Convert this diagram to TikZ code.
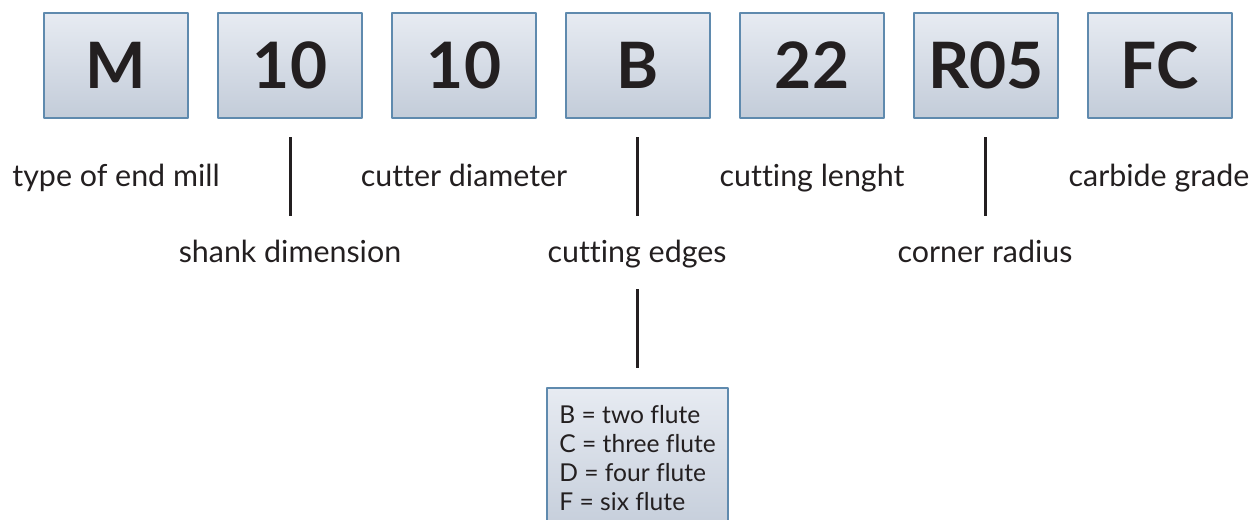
\documentclass[tikz,border=0pt]{standalone}
\usepackage{fontspec}
\setmainfont[Ligatures=NoCommon]{Lato}
\usepackage{tikz}
\usetikzlibrary{arrows}
\definecolor{boxline}{HTML}{5F8AAE}
\definecolor{boxtop}{HTML}{E7EBF2}
\definecolor{boxbot}{HTML}{C3CCD9}
\definecolor{ink}{HTML}{231F20}
\tikzset{
  codebox/.style={draw=boxline,line width=1pt,top color=boxtop,bottom color=boxbot,
    minimum width=72pt,minimum height=52.5pt,inner sep=0pt,
    font=\fontsize{32}{36}\selectfont\bfseries,text=ink},
  desc/.style={font=\fontsize{15.2}{17}\selectfont,text=ink,inner sep=0pt,anchor=base},
  sep/.style={draw=ink,line width=1.5pt}
}
\begin{document}
\begin{tikzpicture}[line cap=butt,line join=round,x=0.5pt,y=-0.5pt]
                  \useasboundingbox (0,0) rectangle (1256,519);
                  \clip (0,0) rectangle (1256,519);
                  \node[codebox] (m) at (116,65.5) {M};
                  \node[codebox] (shank) at (290,65.5) {10};
                  \node[codebox] (dia) at (464,65.5) {10};
                  \node[codebox] (b) at (638,65.5) {B};
                  \node[codebox] (len) at (812,65.5) {22};
                  \node[codebox] (rad) at (986,65.5) {R05};
                  \node[codebox] (fc) at (1160,65.5) {FC};
                  \node[desc] (type) at (116,186) {type of end mill};
                  \node[desc] (cutter) at (464,186) {cutter diameter};
                  \node[desc] (cutlen) at (812,186) {cutting lenght};
                  \node[desc] (grade) at (1159,186) {carbide grade};
                  \node[desc] (dim) at (290,262) {shank dimension};
                  \node[desc] (edges) at (637,262) {cutting edges};
                  \node[desc] (corner) at (985,262) {corner radius};
                  \node[draw=boxline,line width=1pt,top color=boxtop,bottom color=boxbot,
                    anchor=north west,minimum width=90.5pt,minimum height=75pt,
                    inner sep=0pt,outer sep=0pt] (legend) at (547,388) {};
                  \node[anchor=north west,align=left,inner sep=0pt,text=ink,
                    font=\fontsize{12.3}{14.5}\selectfont] (flutes) at (559,405)
                    {B = two flute\\C = three flute\\D = four flute\\F = six flute};
                  \coordinate (s1) at (290,137);
                  \coordinate (s2) at (637,137);
                  \coordinate (s3) at (985,137);
                  \coordinate (e1) at (637,289);
                  \draw[sep] (s1) -- ++(0,79);
                  \draw[sep] (s2) -- ++(0,79);
                  \draw[sep] (s3) -- ++(0,79);
                  \draw[sep] (e1) -- ([yshift=10pt]e1 |- legend.north);
              \end{tikzpicture}
\end{document}
